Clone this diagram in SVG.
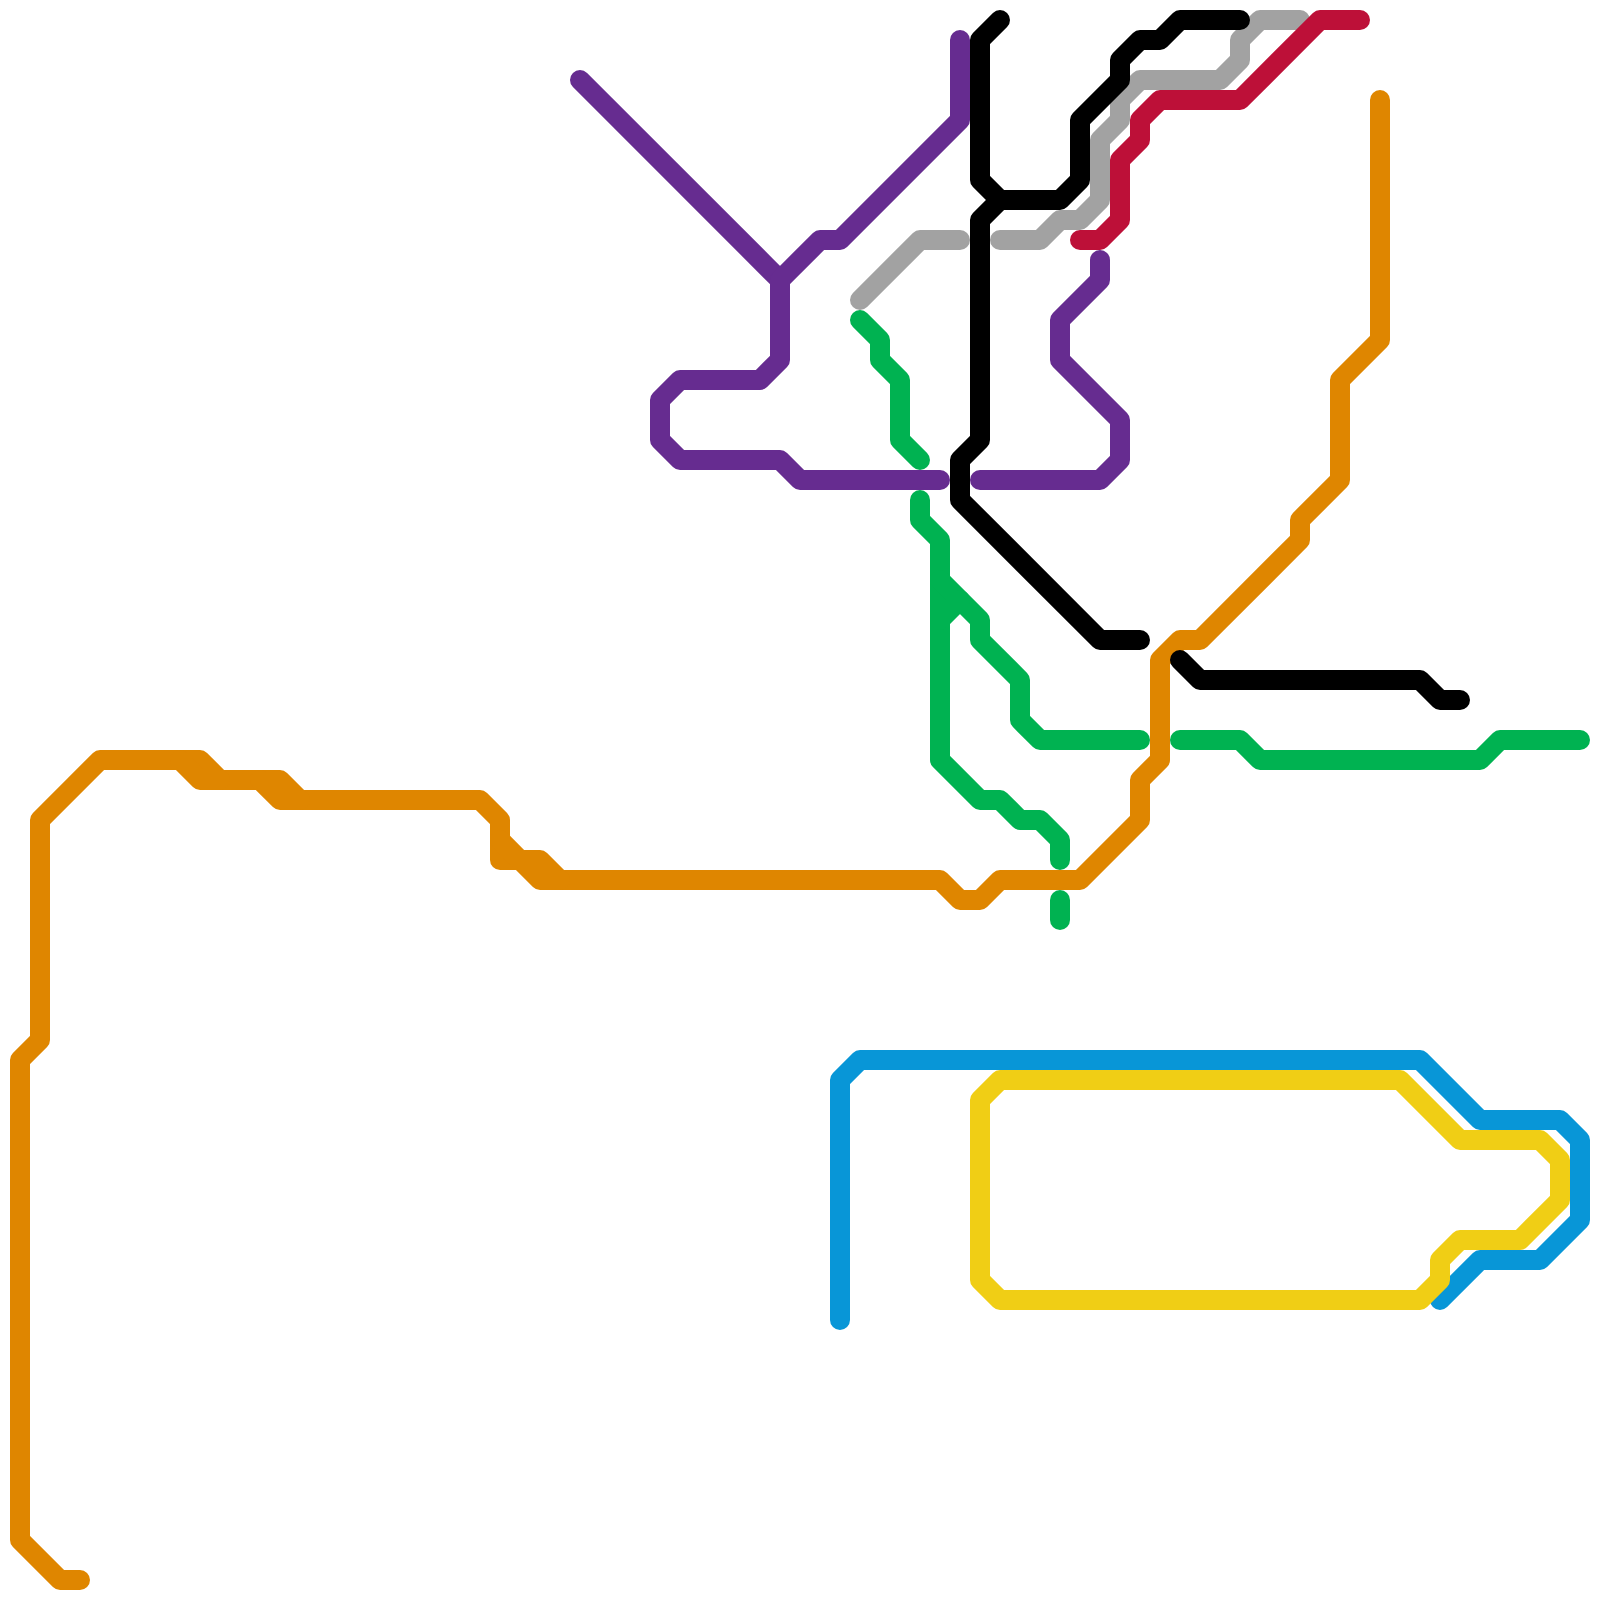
<svg xmlns="http://www.w3.org/2000/svg" width="1600" height="1600" viewBox="0 0 1600 1600">
<style>
path{fill:none;stroke-width:20;stroke-linecap:round;stroke-linejoin:round}
.blue{stroke:#0896D7}.yellow{stroke:#F0CE15}.orange{stroke:#DF8600}.green{stroke:#00B251}.purple{stroke:#662C90}.gray{stroke:#A2A2A2}.black{stroke:#000}.red{stroke:#BD1038}
</style>
<rect width="1600" height="1600" fill="#fff"/>
<g id="lines">
<g id="line-blue" class="blue"><path d="M840 1320V1080L860 1060H1420L1480 1120H1560L1580 1140V1220L1540 1260H1480L1440 1300"/></g>
<g id="line-yellow" class="yellow"><path d="M980 1100L1000 1080H1400L1460 1140H1540L1560 1160V1200L1520 1240H1460L1440 1260V1280L1420 1300H1000L980 1280Z"/></g>
<g id="line-orange" class="orange"><path d="M80 1580H60L20 1540V1060L40 1040V820L100 760H200L220 780H280L300 800H480L500 820V860H540L560 880H940L960 900H980L1000 880H1080L1140 820V780L1160 760V660L1180 640H1200L1300 540V520L1340 480V380L1380 340V100"/><path d="M180 760L200 780H220M260 780L280 800H300M500 840L520 860L540 880H560"/></g>
<g id="line-green" class="green"><path d="M860 320L880 340V360L900 380V440L920 460"/><path d="M920 500V520L940 540V760L980 800H1000L1020 820H1040L1060 840V860"/><path d="M940 580L980 620V640L1020 680V720L1040 740H1140"/><path d="M940 620L960 600"/><path d="M1060 900V920"/><path d="M1180 740H1240L1260 760H1480L1500 740H1580"/></g>
<g id="line-purple" class="purple"><path d="M580 80L780 280"/><path d="M960 40V120L840 240H820L780 280V360L760 380H680L660 400V440L680 460H780L800 480H940"/><path d="M980 480H1100L1120 460V420L1060 360V320L1100 280V260"/></g>
<g id="line-gray" class="gray"><path d="M860 300L920 240H960"/><path d="M1000 240H1040L1060 220H1080L1100 200V140L1120 120V100L1140 80H1220L1240 60V40L1260 20H1300"/></g>
<g id="line-black" class="black"><path d="M1000 20L980 40V180L1000 200H1060L1080 180V120L1120 80V60L1140 40H1160L1180 20H1240"/><path d="M1000 200L980 220V440L960 460V500L1100 640H1140"/><path d="M1180 660L1200 680H1420L1440 700H1460"/></g>
<g id="line-red" class="red"><path d="M1080 240H1100L1120 220V160L1140 140V120L1160 100H1240L1320 20H1360"/></g>
</g>
</svg>
